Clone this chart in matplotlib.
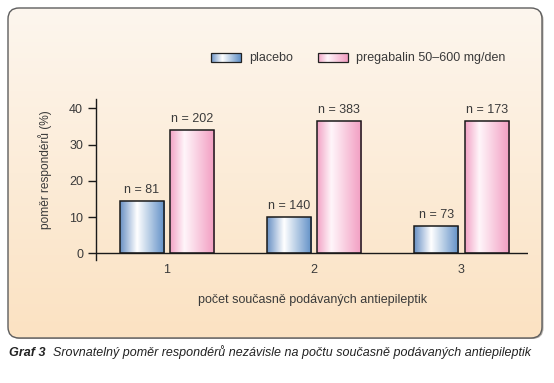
import numpy as np
import matplotlib
matplotlib.use("Agg")
import matplotlib.pyplot as plt
from matplotlib.colors import LinearSegmentedColormap
from matplotlib.patches import FancyBboxPatch, Rectangle

# data
groups = ["1", "2", "3"]
placebo = [14.4, 9.9, 7.5]
pregabalin = [33.9, 36.4, 36.4]
n_placebo = [81, 140, 73]
n_pregabalin = [202, 383, 173]
yticks = [0, 10, 20, 30, 40]

plt.rcParams["font.family"] = ["Liberation Sans", "DejaVu Sans"]
txt = "#3a3a3a"
fs = 9

blue_cmap = LinearSegmentedColormap.from_list(
    "blue", [(0, "#6890c4"), (0.38, "#ffffff"), (1, "#5f8fc6")])
pink_cmap = LinearSegmentedColormap.from_list(
    "pink", [(0, "#f2a2c5"), (0.32, "#fff6fa"), (1, "#f29cc1")])
panel_cmap = LinearSegmentedColormap.from_list(
    "panel", [(0, "#fdf6ee"), (1, "#fbe2c2")])
grad = np.linspace(0, 1, 256).reshape(1, -1)

fig = plt.figure(figsize=(5.54, 3.83), dpi=100)
fig.patch.set_facecolor("white")

# background axes in pixel coords for the rounded panel + legend
bg = fig.add_axes([0, 0, 1, 1], zorder=0)
bg.axis("off")
shadow = FancyBboxPatch((9.5, 9), 534, 330, boxstyle="round,pad=0,rounding_size=11",
                        facecolor="#b5b0aa", edgecolor="none", zorder=0.5)
bg.add_patch(shadow)
panel = FancyBboxPatch((8, 8), 534, 330, boxstyle="round,pad=0,rounding_size=11",
                       facecolor="none", edgecolor="#5e5e5e", lw=1.0, zorder=2)
bg.add_patch(panel)
im = bg.imshow(np.linspace(0, 1, 256).reshape(-1, 1), cmap=panel_cmap, aspect="auto",
               extent=(8, 542, 338, 8), zorder=1)
im.set_clip_path(panel)

# legend
for x0, cmap, label in [(211, blue_cmap, "placebo"),
                        (318, pink_cmap, "pregabalin 50\u2013600 mg/den")]:
    r = Rectangle((x0, 53), 30, 9, facecolor="none", edgecolor="#222222", lw=0.9, zorder=4)
    bg.add_patch(r)
    g = bg.imshow(grad, cmap=cmap, aspect="auto", extent=(x0, x0 + 30, 62, 53), zorder=3)
    g.set_clip_path(r)
    bg.text(x0 + 38, 57.5, label, fontsize=fs, color=txt, va="center", ha="left")

bg.set_xlim(0, 554)
bg.set_ylim(383, 0)

# main chart
ax = fig.add_axes([0.1727, 0.3204, 0.7805, 0.4203], zorder=1)
ax.set_facecolor("none")
x = np.arange(1, len(groups) + 1)
w = 0.299
off = 0.171

for vals, ns, sign, cmap in [(placebo, n_placebo, -1, blue_cmap),
                             (pregabalin, n_pregabalin, 1, pink_cmap)]:
    bars = ax.bar(x + sign * off, vals, w, facecolor="none", edgecolor="#1a1a1a",
                  lw=1.1, zorder=3)
    for b, n in zip(bars, ns):
        bx, by = b.get_x(), b.get_y()
        bw, bh = b.get_width(), b.get_height()
        g = ax.imshow(grad, cmap=cmap, aspect="auto",
                      extent=(bx, bx + bw, by, by + bh), zorder=2)
        g.set_clip_path(b)
        ax.annotate(f"n = {n}", (bx + bw / 2, by + bh), xytext=(0, 4),
                    textcoords="offset points", ha="center", va="bottom",
                    fontsize=fs, color=txt)

ax.axhline(0, color="#1a1a1a", lw=1.0, zorder=4)
ax.set_xlim(0.5155, 3.453)
ax.set_ylim(-1.93, 42.5)
ax.set_yticks(yticks)
ax.set_xticks(x)
ax.set_xticklabels(groups)
for s in ["top", "right", "bottom"]:
    ax.spines[s].set_visible(False)
ax.spines["left"].set_color("#1a1a1a")
ax.spines["left"].set_linewidth(1.0)
ax.tick_params(axis="y", direction="out", length=6, width=1.0, color="#1a1a1a",
               pad=3, labelsize=fs, labelcolor=txt)
ax.tick_params(axis="x", length=0, pad=3, labelsize=fs, labelcolor=txt)

fig.text(45 / 554, 1 - 170 / 383, "poměr respondérů (%)", rotation=90,
         ha="center", va="center", fontsize=8.6, color=txt)
fig.text(312.5 / 554, 1 - 300 / 383, "počet současně podávaných antiepileptik",
         ha="center", va="center", fontsize=fs, color=txt)

# caption
fig.text(9 / 554, 1 - 356 / 383, "Graf 3", fontsize=9.1, weight="bold",
         style="italic", color="#222222", va="baseline")
fig.text(53 / 554, 1 - 356 / 383,
         "Srovnatelný poměr respondérů nezávisle na počtu současně podávaných antiepileptik",
         fontsize=9.0, style="italic", color="#222222", va="baseline")

fig.savefig("out.png", dpi=100)
